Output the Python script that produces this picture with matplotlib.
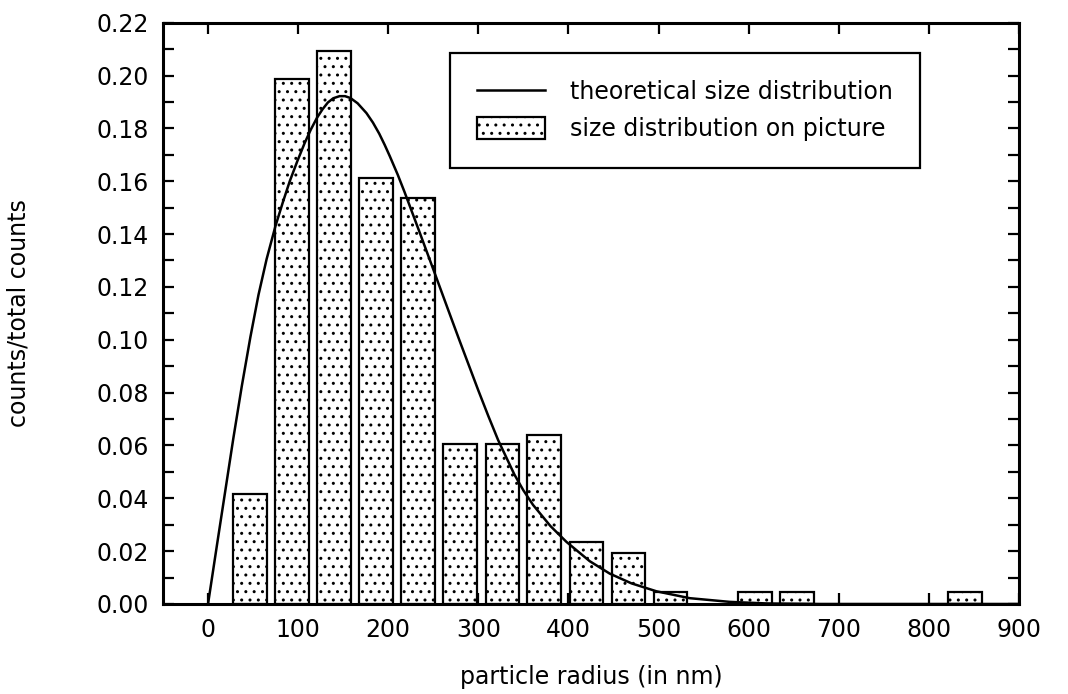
import matplotlib
matplotlib.use("Agg")
import matplotlib.pyplot as plt
from matplotlib.ticker import MultipleLocator

# Histogram of particle radii (bin centres in nm) and normalised counts
bin_centers = [46.7, 93.3, 140.0, 186.7, 233.3, 280.0, 326.7, 373.3, 420.0,
               466.7, 513.3, 560.0, 606.7, 653.3, 700.0, 746.7, 793.3, 840.0]
fractions = [0.0416, 0.1987, 0.2092, 0.1612, 0.1537, 0.0604, 0.0604, 0.0641,
             0.0233, 0.0194, 0.0044, 0.0, 0.0044, 0.0044, 0.0, 0.0, 0.0, 0.0044]

# Theoretical size distribution curve
theory_r = [0, 10, 19, 28, 37.5, 47, 56, 65, 74.8, 83, 90.7, 99, 107.3, 114,
            120.9, 127, 133, 139, 146, 152, 158, 166, 175.8, 183, 190, 196,
            201.7, 210.5, 218, 235, 252, 266, 279, 300, 311, 322, 340, 350,
            360.7, 380, 397.8, 423.6, 445.8, 470, 497.7, 534.6, 579, 620, 680,
            900]
theory_p = [0.0, 0.0225, 0.0425, 0.0625, 0.0825, 0.1010, 0.1170, 0.1305,
            0.1430, 0.1520, 0.1600, 0.1675, 0.1745, 0.1795, 0.1840, 0.1872,
            0.1898, 0.1914, 0.1922, 0.1922, 0.1915, 0.1895, 0.1858, 0.1822,
            0.1780, 0.1738, 0.1695, 0.1625, 0.1560, 0.1405, 0.1248, 0.1118,
            0.0998, 0.0808, 0.0712, 0.0620, 0.0490, 0.0430, 0.0375, 0.0295,
            0.0235, 0.0162, 0.0115, 0.0078, 0.0048, 0.0022, 0.0008, 0.0002,
            0.0, 0.0]

x_ticks = [0, 100, 200, 300, 400, 500, 600, 700, 800, 900]

plt.rcParams["font.family"] = ["DejaVu Sans"]
plt.rcParams["hatch.linewidth"] = 1.0
plt.rcParams["hatch.color"] = "black"

fig = plt.figure(figsize=(10.68, 6.94), dpi=100)
ax = fig.add_axes([0.1526, 0.1297, 0.8015, 0.8376])

bars_x = [c for c, f in zip(bin_centers, fractions) if f > 0]
bars_h = [f for f in fractions if f > 0]
bars = ax.bar(bars_x, bars_h, width=37.5, facecolor="white",
              edgecolor="black", linewidth=1.6, hatch="..", zorder=2)
curve, = ax.plot(theory_r, theory_p, color="black", linewidth=1.8, zorder=3,
                 solid_joinstyle="round")

ax.set_xlim(-50, 900)
ax.set_ylim(0, 0.22)
ax.set_xticks(x_ticks)
ax.yaxis.set_major_locator(MultipleLocator(0.02))
ax.yaxis.set_minor_locator(MultipleLocator(0.01))
ax.yaxis.set_major_formatter(plt.FuncFormatter(lambda v, p: f"{v:.2f}"))

ax.tick_params(axis="both", which="both", direction="in", top=True,
               right=True, width=1.6, length=8, labelsize=17)
ax.tick_params(axis="x", pad=10)
ax.tick_params(axis="y", pad=10)
for sp in ax.spines.values():
    sp.set_linewidth(2.2)

ax.set_xlabel("particle radius (in nm)", fontsize=17)
ax.set_ylabel("counts/total counts", fontsize=17)
ax.xaxis.set_label_coords(0.5, -0.105)
ax.yaxis.set_label_coords(-0.155, 0.5)

leg = ax.legend([curve, bars[0]],
                ["theoretical size distribution", "size distribution on picture"],
                loc="upper left", bbox_to_anchor=(0.335, 0.948),
                borderaxespad=0, fontsize=17, handlelength=2.9,
                handleheight=1.0, handletextpad=1.05, labelspacing=0.55,
                borderpad=1.15, fancybox=False, edgecolor="black",
                framealpha=1)
leg.get_frame().set_linewidth(1.6)

fig.savefig("out.png", dpi=100)
